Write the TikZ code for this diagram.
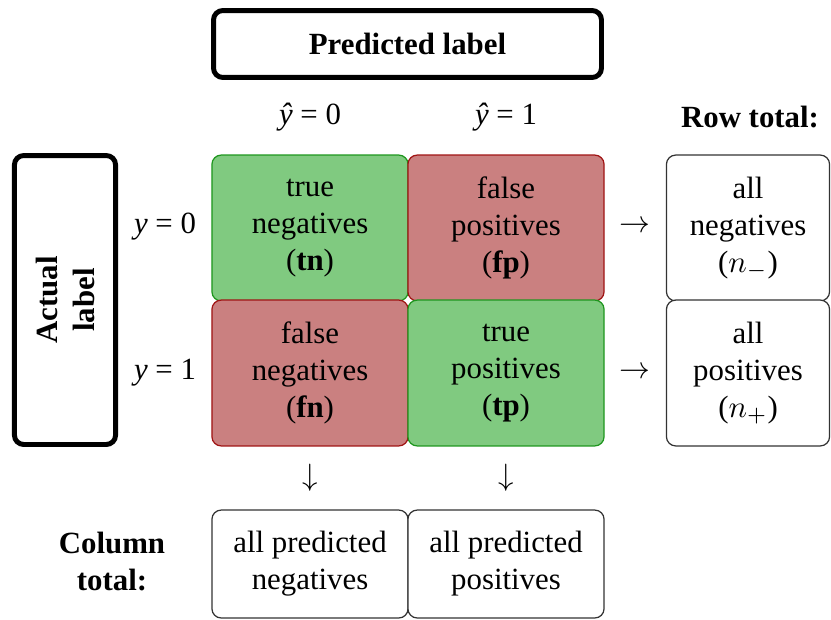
\documentclass[tikz,border=0pt]{standalone}
\usepackage{fontspec}
\setmainfont{Liberation Serif}

\definecolor{goodfill}{RGB}{128,202,128}
\definecolor{goodline}{RGB}{30,150,30}
\definecolor{badfill}{RGB}{202,128,128}
\definecolor{badline}{RGB}{160,20,20}

\tikzstyle{cell}=[rectangle,draw,rounded corners=3pt,minimum width=63.6pt,minimum height=47.3pt,inner sep=0pt,align=center]
\tikzstyle{good}=[cell,fill=goodfill,draw=goodline]
\tikzstyle{bad}=[cell,fill=badfill,draw=badline]
\tikzstyle{total}=[cell,draw=black!80,fill=white]
\tikzstyle{heading}=[rectangle,draw,line width=1.6pt,rounded corners=3pt,inner sep=0pt,font=\bfseries,align=center]

\begin{document}
\begin{tikzpicture}[x=0.3243pt, y=-0.3243pt]
		\useasboundingbox (0,0) rectangle (831,619);

		\node [heading,minimum width=125.8pt,minimum height=21.7pt] (predicted) at (407.5,44) {Predicted label};
		\node [heading,rotate=90,minimum width=93.7pt,minimum height=32.8pt] (actual) at (65,300) {Actual\\label};

		\node []       (yhat0)    at (310,117)  {\textit{ŷ} = 0};
		\node []       (yhat1)    at (506,117)  {\textit{ŷ} = 1};
		\node [font=\bfseries] (rowtotal) at (750,117) {Row total:};
		\node []       (y0)       at (165,227)  {\textit{y} = 0};
		\node []       (y1)       at (165,373)  {\textit{y} = 1};

		\node [good]   (tn)       at (310,228) {true\\negatives\\(\textbf{tn})};
		\node [bad]    (fp)       at (506,228) {false\\positives\\(\textbf{fp})};
		\node [bad]    (fn)       at (310,373)   {false\\negatives\\(\textbf{fn})};
		\node [good]   (tp)       at (506,373)   {true\\positives\\(\textbf{tp})};

		\node []       (right0)   at (635,227)  {$\rightarrow$};
		\node []       (right1)   at (635,373)  {$\rightarrow$};
		\node [total,minimum width=52.9pt] (allneg) at (748,228) {all\\negatives\\($n_{-}$)};
		\node [total,minimum width=52.9pt] (allpos) at (748,373)   {all\\positives\\($n_{+}$)};

		\node []       (down0)    at (310,478)  {$\downarrow$};
		\node []       (down1)    at (506,478)  {$\downarrow$};
		\node [font=\bfseries,align=center] (coltotal) at (112,562) {Column\\total:};
		\node [total,minimum height=35pt] (predneg) at (310,564) {all predicted\\negatives};
		\node [total,minimum height=35pt] (predpos) at (506,564) {all predicted\\positives};
	\end{tikzpicture}
\end{document}
